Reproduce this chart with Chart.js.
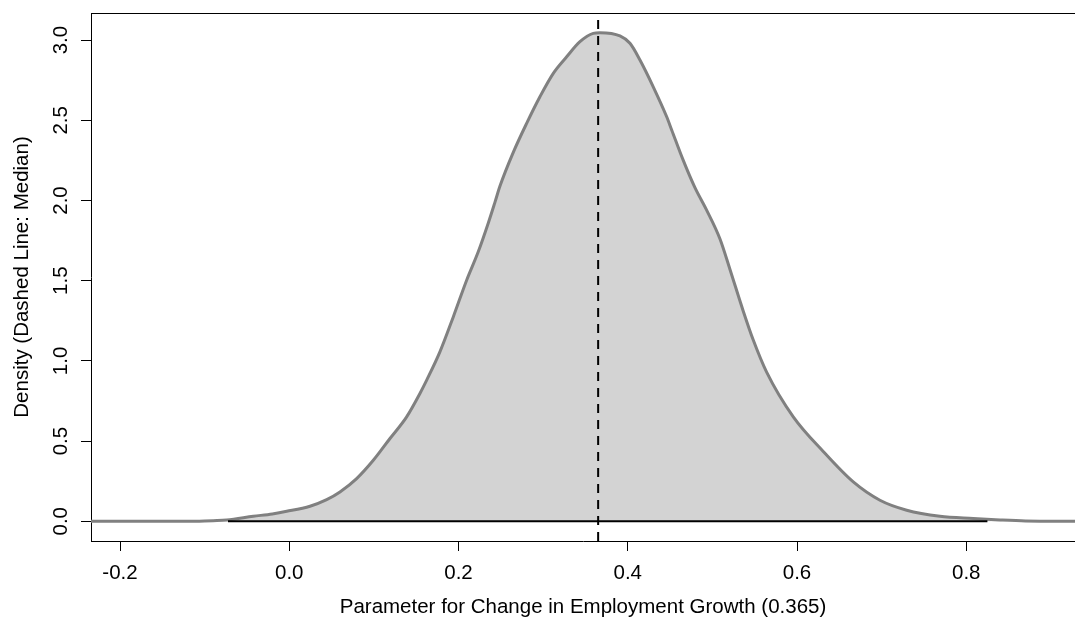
<!DOCTYPE html>
<html>
<head>
<meta charset="utf-8">
<title>Posterior density</title>
<script src="https://cdn.jsdelivr.net/npm/chart.js@4/dist/chart.umd.min.js"></script>
<style>
  html, body { margin: 0; padding: 0; background: #ffffff; overflow: hidden; }
  #wrap { position: relative; width: 1075px; height: 624px; }
</style>
</head>
<body>
<div id="wrap"><canvas id="c" width="1075" height="624"></canvas></div>
<script>
// Estimated density of the parameter (x = parameter value, y = density)
const densityX = [
  -0.2343, -0.20, -0.15, -0.12, -0.10, -0.09, -0.074, -0.0425, -0.02, -0.003,
  0.0245, 0.0442, 0.0599, 0.0796, 0.0993, 0.119, 0.1387, 0.1544, 0.1624, 0.178,
  0.1938, 0.2096, 0.2233, 0.2352, 0.2431, 0.249, 0.2647, 0.2805, 0.2962, 0.312,
  0.3278, 0.3435, 0.3592, 0.3671, 0.3908, 0.4026, 0.4144, 0.4301, 0.446, 0.4519,
  0.4656, 0.4794, 0.4932, 0.509, 0.5208, 0.5365, 0.5483, 0.5641, 0.5956, 0.631,
  0.6665, 0.698, 0.7296, 0.7689, 0.8083, 0.84, 0.87, 0.9285
];
const densityY = [
  0, 0, 0, 0, 0.002, 0.004, 0.008, 0.031, 0.046, 0.062,
  0.094, 0.135, 0.183, 0.266, 0.38, 0.516, 0.651, 0.797, 0.88, 1.056,
  1.274, 1.503, 1.68, 1.86, 1.99, 2.09, 2.30, 2.481, 2.647, 2.793,
  2.896, 2.99, 3.042, 3.046, 3.026, 2.98, 2.876, 2.709, 2.522, 2.44,
  2.25, 2.08, 1.94, 1.76, 1.57, 1.31, 1.13, 0.93, 0.651, 0.435,
  0.245, 0.131, 0.069, 0.031, 0.017, 0.008, 0.002, 0
];

// Median of the draws (dashed vertical line) and the span of the draws (black base line)
const medianValue = 0.365;
const baselineX = [-0.0724, 0.825];

// Axis ranges and tick marks
const xRange = [-0.2343, 0.9285];
const yRange = [-0.123, 3.169];
const xTickValues = [-0.2, 0.0, 0.2, 0.4, 0.6, 0.8];
const yTickValues = [0.0, 0.5, 1.0, 1.5, 2.0, 2.5, 3.0];

const xTitle = 'Parameter for Change in Employment Growth (0.365)';
const yTitle = 'Density (Dashed Line: Median)';

const FONT = 'Liberation Sans, Arial, Helvetica, sans-serif';
const FONT_SIZE = 20.5;

const densityPoints = densityX.map((x, i) => ({ x: x, y: densityY[i] }));
const baselinePoints = baselineX.map(x => ({ x: x, y: 0 }));
const medianPoints = [{ x: medianValue, y: yRange[0] }, { x: medianValue, y: yRange[1] }];

// Top edge of the plot frame
const frameTop = {
  id: 'frameTop',
  afterDraw(chart) {
    const { ctx, chartArea } = chart;
    ctx.save();
    ctx.strokeStyle = '#000000';
    ctx.lineWidth = 1;
    ctx.beginPath();
    ctx.moveTo(chartArea.left, Math.round(chartArea.top) + 0.5);
    ctx.lineTo(chartArea.right, Math.round(chartArea.top) + 0.5);
    ctx.stroke();
    ctx.restore();
  }
};

new Chart(document.getElementById('c'), {
  type: 'scatter',
  data: {
    datasets: [
      {
        label: 'base',
        data: baselinePoints,
        showLine: true,
        borderColor: '#000000',
        borderWidth: 2,
        pointRadius: 0,
        fill: false,
        order: 0
      },
      {
        label: 'median',
        data: medianPoints,
        showLine: true,
        borderColor: '#000000',
        borderWidth: 2,
        borderDash: [9, 7],
        pointRadius: 0,
        fill: false,
        order: 1
      },
      {
        label: 'density',
        data: densityPoints,
        showLine: true,
        borderColor: '#808080',
        borderWidth: 3,
        backgroundColor: '#d3d3d3',
        fill: 'origin',
        pointRadius: 0,
        cubicInterpolationMode: 'monotone',
        order: 2
      }
    ]
  },
  options: {
    responsive: false,
    animation: false,
    devicePixelRatio: 1,
    layout: { padding: { top: 13, right: 0, bottom: 0, left: 0 } },
    plugins: {
      legend: { display: false },
      tooltip: { enabled: false }
    },
    scales: {
      x: {
        type: 'linear',
        position: 'bottom',
        min: xRange[0],
        max: xRange[1],
        afterBuildTicks(scale) { scale.ticks = xTickValues.map(v => ({ value: v })); },
        afterFit(scale) { scale.height = 83; scale.paddingLeft = 0; scale.paddingRight = 0; },
        border: { display: true, color: '#000000', width: 1 },
        grid: { display: true, drawOnChartArea: false, drawTicks: true, tickLength: 10, tickColor: '#000000', color: '#000000' },
        ticks: {
          color: '#000000',
          padding: 10,
          maxRotation: 0,
          minRotation: 0,
          font: { family: FONT, size: FONT_SIZE },
          callback: v => Number(v).toFixed(1)
        },
        title: {
          display: true,
          text: xTitle,
          color: '#000000',
          font: { family: FONT, size: FONT_SIZE },
          padding: { top: 0, bottom: 4 }
        }
      },
      y: {
        type: 'linear',
        position: 'left',
        min: yRange[0],
        max: yRange[1],
        afterBuildTicks(scale) { scale.ticks = yTickValues.map(v => ({ value: v })); },
        afterFit(scale) { scale.width = 91; scale.paddingTop = 0; scale.paddingBottom = 0; },
        border: { display: true, color: '#000000', width: 1 },
        grid: { display: true, drawOnChartArea: false, drawTicks: true, tickLength: 10, tickColor: '#000000', color: '#000000' },
        ticks: {
          color: '#000000',
          padding: 5,
          minRotation: 90,
          maxRotation: 90,
          crossAlign: 'center',
          font: { family: FONT, size: FONT_SIZE },
          callback: v => Number(v).toFixed(1)
        },
        title: {
          display: true,
          text: yTitle,
          color: '#000000',
          font: { family: FONT, size: FONT_SIZE },
          padding: { top: 10, bottom: 0 }
        }
      }
    }
  },
  plugins: [frameTop]
});
</script>
</body>
</html>
